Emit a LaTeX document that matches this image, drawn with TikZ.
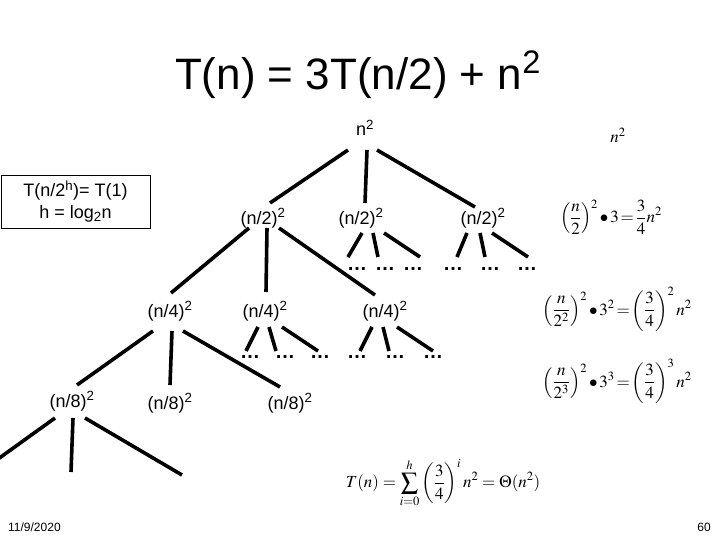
\documentclass[tikz,border=0pt]{standalone}
\usepackage{mathptmx}
\usepackage[no-math]{fontspec}
\setmainfont{Liberation Sans}
\usetikzlibrary{calc}
\begin{document}
\begin{tikzpicture}[x=1pt,y=-1pt,
  lbl/.style={font=\fontsize{18}{21}\selectfont, inner sep=0pt},
  br/.style={line width=3.6pt},
  eq/.style={font=\fontsize{17}{20}\selectfont, inner sep=0pt},
  dotrow/.style={font=\fontsize{20}{22}\selectfont\bfseries, inner sep=0pt},
  small/.style={font=\fontsize{12}{14}\selectfont, inner sep=0pt}]
\useasboundingbox (0,0) rectangle (720,540);
\clip (0,0) rectangle (720,540);
% title
\node[inner sep=0pt, font=\fontsize{44}{50}\selectfont] (title) at (358,75) {T(n) = 3T(n/2) + n\textsuperscript{2}};
% box
\node[draw, line width=0.8pt, minimum width=149pt, minimum height=53pt, align=center, inner sep=0pt,
      font=\fontsize{18}{22}\selectfont] (box) at (75.5,201.5) {T(n/2\textsuperscript{h})= T(1)\\h = log\textsubscript{2}n};
% tree nodes
\node[lbl] (R)  at (365,128) {n\textsuperscript{2}};
\node[lbl] (A1) at (263,218) {(n/2)\textsuperscript{2}};
\node[lbl] (A2) at (361,218) {(n/2)\textsuperscript{2}};
\node[lbl] (A3) at (483,218) {(n/2)\textsuperscript{2}};
\node[lbl] (B1) at (170,311) {(n/4)\textsuperscript{2}};
\node[lbl] (B2) at (265,311) {(n/4)\textsuperscript{2}};
\node[lbl] (B3) at (385,311) {(n/4)\textsuperscript{2}};
\node[lbl] (C1) at (72,401) {(n/8)\textsuperscript{2}};
\node[lbl] (C2) at (170,403) {(n/8)\textsuperscript{2}};
\node[lbl] (C3) at (290,403) {(n/8)\textsuperscript{2}};
\node[dotrow] (D1) at (385,269) {…\hspace{8pt}…\hspace{8pt}…};
\node[dotrow] (D2) at (490,269) {…\hspace{17pt}…\hspace{17pt}…};
\node[dotrow] (D3) at (285,357) {…\hspace{15pt}…\hspace{15pt}…};
\node[dotrow] (D4) at (395,357) {…\hspace{18pt}…\hspace{18pt}…};
\coordinate (L1) at (-2,459);
\coordinate (L2) at (71,472);
\coordinate (L3) at (182,475);
% edges
\draw[br] ($(R)+(-17,22)$) -- ($(A1)+(7,-15)$);
\draw[br] ($(R)+(2,22)$) -- ($(A2)+(4,-15)$);
\draw[br] ($(R)+(12,22)$) -- ($(A3)+(-8,-11)$);
\draw[br] ($(A1)+(-14,10)$) -- ($(B1)+(1,-18)$);
\draw[br] ($(A1)+(4,10)$) -- ($(B2)+(1,-19)$);
\draw[br] ($(A1)+(16,10)$) -- ($(B3)+(-10,-16)$);
\draw[br] ($(A2)+(1,15)$) -- ($(D1)+(-37,-12)$);
\draw[br] ($(A2)+(12,15)$) -- ($(D1)+(-7,-12)$);
\draw[br] ($(A2)+(23,15)$) -- ($(D1)+(35,-12)$);
\draw[br] ($(A3)+(-16,15)$) -- ($(D2)+(-33,-12)$);
\draw[br] ($(A3)+(-3,15)$) -- ($(D2)+(-5,-12)$);
\draw[br] ($(A3)+(9,15)$) -- ($(D2)+(38,-12)$);
\draw[br] ($(B1)+(-17,20)$) -- ($(C1)+(5,-16)$);
\draw[br] ($(B1)+(2,20)$) -- ($(C2)+(0,-18)$);
\draw[br] ($(B1)+(13,20)$) -- ($(C3)+(-10,-16)$);
\draw[br] ($(B2)+(-7,16)$) -- ($(D3)+(-39,-6)$);
\draw[br] ($(B2)+(4,16)$) -- ($(D3)+(-9,-6)$);
\draw[br] ($(B2)+(17,16)$) -- ($(D3)+(33,-6)$);
\draw[br] ($(B3)+(-13,16)$) -- ($(D4)+(-35,-6)$);
\draw[br] ($(B3)+(-2,16)$) -- ($(D4)+(-6,-6)$);
\draw[br] ($(B3)+(12,16)$) -- ($(D4)+(38,-6)$);
\draw[br] ($(C1)+(-17,17)$) -- (L1);
\draw[br] ($(C1)+(1,17)$) -- (L2);
\draw[br] ($(C1)+(13,17)$) -- (L3);
% right-hand equations
\node[eq] (E0) at (618,135) {$n^2$};
\node[eq] (E1) at (611,217) {$\displaystyle \left(\frac{n}{2}\right)^{2}{\bullet}\,3\!=\!\frac{3}{4}n^{2}$};
\node[eq] (E2) at (617,309) {$\displaystyle \left(\frac{n}{2^{2}}\right)^{2}{\bullet}\,3^{2}\!=\!\left(\frac{3}{4}\right)^{2}n^{2}$};
\node[eq] (E3) at (617,381) {$\displaystyle \left(\frac{n}{2^{3}}\right)^{2}{\bullet}\,3^{3}\!=\!\left(\frac{3}{4}\right)^{3}n^{2}$};
\node[eq] (E4) at (443,483) {$\displaystyle T(n)=\sum_{i=0}^{h}\left(\frac{3}{4}\right)^{i}n^{2}=\Theta(n^{2})$};
% footer
\node[small, anchor=west] (date) at (8,527) {11/9/2020};
\node[small, anchor=east] (page) at (711,527) {60};
\end{tikzpicture}
\end{document}
